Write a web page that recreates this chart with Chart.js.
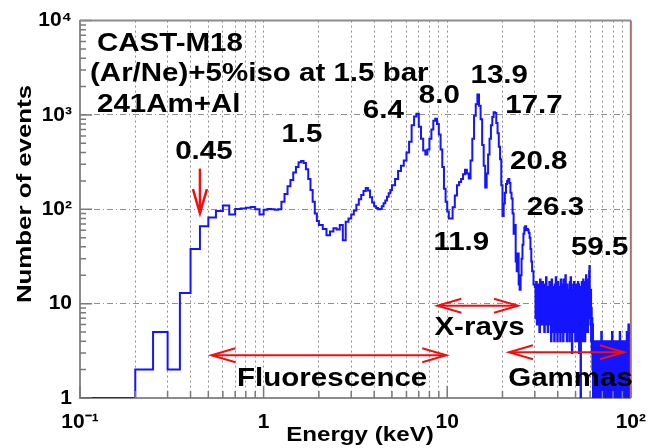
<!DOCTYPE html>
<html>
<head>
<meta charset="utf-8">
<title>CAST-M18 spectrum</title>
<script src="https://cdn.jsdelivr.net/npm/chart.js@4.4.0/dist/chart.umd.min.js"></script>
<style>
  html, body { margin: 0; padding: 0; background: #fff; }
</style>
</head>
<body>
<canvas id="spectrum" width="658" height="448"></canvas>
<script>
// Histogram bins: left edge energy (keV) and number of events per bin
const lowEnergy = [0.1, 0.2, 0.25, 0.3, 0.35, 0.4, 0.45, 0.5, 0.55, 0.6, 0.65, 0.7, 0.75, 0.8, 0.85, 0.9, 0.95,
  1.0, 1.05, 1.1, 1.15, 1.2, 1.25, 1.3, 1.35, 1.4, 1.45, 1.5, 1.55, 1.6, 1.65, 1.7, 1.75, 1.8, 1.85, 1.9, 1.95];
const lowCounts = [1, 2, 5, 2, 13, 38, 66, 82, 96, 110, 88, 101, 102, 104, 106, 100, 88,
  99, 101, 100, 99, 100, 120, 145, 175, 205, 245, 280, 315, 325, 310, 265, 210, 160, 120, 90, 75];

const midEnergy = [2.0, 2.1, 2.2, 2.3, 2.4, 2.5, 2.6, 2.7, 2.8, 2.9, 3.0, 3.1, 3.2, 3.3, 3.4, 3.5, 3.6, 3.7, 3.8, 3.9,
  4.0, 4.1, 4.2, 4.3, 4.4, 4.5, 4.6, 4.7, 4.8, 4.9, 5.0, 5.2, 5.4, 5.6, 5.8, 6.0, 6.2, 6.4, 6.6, 6.8,
  7.0, 7.2, 7.4, 7.6, 7.8, 8.0, 8.2, 8.4, 8.6, 8.8, 9.0, 9.2, 9.4, 9.6, 9.8, 10.0, 10.2];
const midCounts = [68, 62, 53, 58, 63, 61, 68, 47, 74, 80, 88, 97, 112, 128, 142, 156, 168, 158, 134, 118,
  108, 103, 100, 101, 108, 116, 124, 136, 148, 160, 180, 210, 255, 290, 330, 400, 520, 780, 960, 1030,
  750, 560, 420, 380, 430, 560, 700, 870, 910, 800, 620, 430, 280, 165, 120, 95, 80];

const highEnergy = [10.4, 10.7, 11.0, 11.3, 11.6, 11.9, 12.2, 12.5, 12.8, 13.1, 13.4, 13.7, 14.0, 14.3, 14.6, 14.9,
  15.2, 15.5, 15.8, 16.1, 16.4, 16.7, 17.0, 17.3, 17.6, 17.9, 18.2, 18.5, 18.8, 19.1, 19.4, 19.7,
  20.0, 20.3, 20.6, 20.9, 21.2, 21.5, 21.8, 22.1, 22.4, 22.7, 23.0, 23.3, 23.6, 23.9, 24.2, 24.5,
  24.8, 25.1, 25.4, 25.7, 26.0, 26.3, 26.6, 26.9, 27.2, 27.5, 27.8, 28.1, 28.4, 28.7, 29.0, 29.5];
const highCounts = [80, 105, 140, 180, 195, 210, 235, 262, 240, 212, 330, 560, 980, 1300, 1650, 1250,
  900, 480, 290, 170, 240, 380, 560, 780, 950, 1070, 1050, 820, 640, 460, 340, 180,
  85, 115, 150, 185, 200, 210, 190, 150, 130, 90, 55, 68, 28, 22, 34, 16,
  14, 20, 30, 42, 55, 64, 66, 60, 62, 60, 56, 50, 38, 28, 22, 16];

const tailEnergy = [
  30, 30.25, 30.5, 30.75, 31, 31.25, 31.5, 31.75, 32, 32.25, 32.5, 32.75, 33, 33.25, 33.5, 33.75,
  34, 34.25, 34.5, 34.75, 35, 35.25, 35.5, 35.75, 36, 36.25, 36.5, 36.75, 37, 37.25, 37.5, 37.75,
  38, 38.25, 38.5, 38.75, 39, 39.25, 39.5, 39.75, 40, 40.25, 40.5, 40.75, 41, 41.25, 41.5, 41.75,
  42, 42.25, 42.5, 42.75, 43, 43.25, 43.5, 43.75, 44, 44.25, 44.5, 44.75, 45, 45.25, 45.5, 45.75,
  46, 46.25, 46.5, 46.75, 47, 47.25, 47.5, 47.75, 48, 48.25, 48.5, 48.75, 49, 49.25, 49.5, 49.75,
  50, 50.25, 50.5, 50.75, 51, 51.25, 51.5, 51.75, 52, 52.25, 52.5, 52.75, 53, 53.25, 53.5, 53.75,
  54, 54.25, 54.5, 54.75, 55, 55.25, 55.5, 55.75, 56, 56.25, 56.5, 56.75, 57, 57.25, 57.5, 57.75,
  58, 58.25, 58.5, 58.75, 59, 59.25, 59.5, 59.75, 60, 60.25, 60.5, 60.75, 61, 61.25, 61.5, 61.75,
  62, 62.25, 62.5, 62.75];
const tailCounts = [
  15, 7, 17, 6, 14, 8, 16, 5, 18, 7, 13, 6, 17, 9, 14, 5,
  16, 6, 19, 7, 12, 5, 15, 8, 17, 6, 14, 4, 18, 5, 15, 7,
  13, 4, 16, 6, 19, 5, 14, 4, 17, 6, 15, 5, 12, 4, 18, 6,
  16, 5, 14, 4, 18, 7, 13, 5, 20, 6, 15, 4, 16, 5, 14, 6,
  13, 4, 17, 5, 19, 6, 12, 3, 14, 5, 16, 5, 17, 6, 13, 4,
  15, 4, 16, 6, 13, 5, 17, 4, 16, 3, 12, 5, 14, 1, 15, 5,
  17, 6, 13, 4, 18, 5, 14, 6, 15, 4, 17, 5, 20, 7, 14, 6,
  16, 5, 18, 7, 15, 22, 25, 9, 12, 6, 14, 4, 9, 3, 7, 2,
  6, 1, 4, 1];

const gammaEnergy = [
  63, 63.5, 64, 64.5, 65, 65.5, 66, 66.5, 67, 67.5, 68, 68.5, 69, 69.5, 70, 70.5, 71, 71.5, 72, 72.5,
  73, 73.5, 74, 74.5, 75, 75.5, 76, 76.5, 77, 77.5, 78, 78.5, 79, 79.5, 80, 80.5, 81, 81.5, 82, 82.5,
  83, 83.5, 84, 84.5, 85, 85.5, 86, 86.5, 87, 87.5, 88, 88.5, 89, 89.5, 90, 90.5, 91, 91.5, 92, 92.5,
  93, 93.5, 94, 94.5, 95, 95.5, 96, 96.5, 97, 97.5, 98, 98.5, 99, 99.5];
const gammaCounts = [
  4, 1, 3, 1, 4, 2, 3, 1, 4, 1, 3, 1, 5, 1, 3, 1, 4, 2, 3, 1,
  4, 1, 3, 1, 4, 1, 3, 2, 4, 1, 3, 1, 5, 1, 3, 1, 4, 1, 3, 2,
  4, 1, 3, 1, 4, 1, 3, 1, 5, 1, 3, 2, 4, 1, 3, 1, 4, 1, 3, 1,
  4, 2, 3, 1, 5, 1, 3, 1, 6, 1, 4, 1, 6, 6];

// Axis decades and their labels
const xDecades = [0.1, 1, 10, 100];
const xTickLabels = ['10\u207B\u00B9', '1', '10', '10\u00B2'];
const yDecades = [1, 10, 100, 1000, 10000];
const yTickLabels = ['1', '10', '10\u00B2', '10\u00B3', '10\u2074'];

const energies = [...lowEnergy, ...midEnergy, ...highEnergy, ...tailEnergy, ...gammaEnergy];
const counts = [...lowCounts, ...midCounts, ...highCounts, ...tailCounts, ...gammaCounts];
const points = energies.map((e, i) => ({ x: e, y: counts[i] }));
// close the last bin at the upper axis limit
points.push({ x: xDecades[xDecades.length - 1], y: counts[counts.length - 1] });

// Peak labels and region arrows, placed in data units (keV, events)
const peakNotes = [
  { text: '0.45', x: 0.33, y: 339 },
  { text: '1.5', x: 1.25, y: 511 },
  { text: '6.4', x: 3.47, y: 936 },
  { text: '8.0', x: 7.0, y: 1345 },
  { text: '13.9', x: 13.4, y: 2181 },
  { text: '17.7', x: 20.7, y: 1056 },
  { text: '20.8', x: 22.0, y: 266 },
  { text: '26.3', x: 27.1, y: 87.5 },
  { text: '11.9', x: 8.41, y: 36.7 },
  { text: '59.5', x: 47.2, y: 32.5 },
  { text: 'X-rays', x: 8.52, y: 4.7 },
  { text: 'Fluorescence', x: 0.717, y: 1.34 },
  { text: 'Gammas', x: 21.5, y: 1.34 }
];
const arrows = [
  { x1: 0.52, y1: 2.84, x2: 9.88, y2: 2.84, both: true, width: 2 },
  { x1: 8.84, y1: 9.5, x2: 24.3, y2: 9.5, both: true, width: 2 },
  { x1: 21.7, y1: 3.05, x2: 91.8, y2: 3.05, both: true, width: 2 },
  { x1: 0.45, y1: 270, x2: 0.45, y2: 91, both: false, width: 2.5 }
];
const headerLines = [
  { text: 'CAST-M18', dx: 17, dy: 30 },
  { text: '(Ar/Ne)+5%iso at 1.5 bar', dx: 10, dy: 60 },
  { text: '241Am+Al', dx: 17, dy: 91 }
];

const FONT = '"Liberation Sans", Arial, Helvetica, sans-serif';

function withMinors(decades) {
  const out = [];
  decades.forEach((d, i) => {
    out.push(d);
    if (i < decades.length - 1) for (let k = 2; k <= 9; k++) out.push(d * k);
  });
  return out;
}
function decadeIndex(v, decades) {
  return decades.findIndex(d => Math.abs(v / d - 1) < 1e-6);
}

function drawText(c, txt, x, y, size, sx, align) {
  c.save();
  c.translate(x, y);
  c.scale(sx, 1);
  c.font = 'bold ' + size + 'px ' + FONT;
  c.fillStyle = '#000';
  c.textAlign = align || 'left';
  c.textBaseline = 'alphabetic';
  c.fillText(txt, 0, 0);
  c.restore();
}

function arrowHead(c, tx, ty, ux, uy) {
  const len = 24, half = 7;
  const bx = tx - ux * len, by = ty - uy * len;
  c.beginPath();
  c.moveTo(bx - uy * half, by + ux * half);
  c.lineTo(tx, ty);
  c.lineTo(bx + uy * half, by - ux * half);
  c.stroke();
}

const decorations = {
  id: 'decorations',
  afterDatasetsDraw(chart) {
    const c = chart.ctx, a = chart.chartArea;
    const xs = chart.scales.x, ys = chart.scales.y;
    c.save();
    // tick marks inside the frame
    c.strokeStyle = '#7a7a7a';
    c.lineWidth = 1.5;
    c.beginPath();
    xs.ticks.forEach(t => {
      const px = xs.getPixelForValue(t.value);
      const len = decadeIndex(t.value, xDecades) >= 0 ? 12 : 7;
      c.moveTo(px, a.bottom);
      c.lineTo(px, a.bottom - len);
    });
    ys.ticks.forEach(t => {
      const py = ys.getPixelForValue(t.value);
      const len = decadeIndex(t.value, yDecades) >= 0 ? 12 : 6;
      c.moveTo(a.left, py);
      c.lineTo(a.left + len, py);
    });
    c.stroke();
    // top and right edges of the frame
    c.lineWidth = 2;
    c.strokeStyle = '#8c8c8c';
    c.beginPath();
    c.moveTo(a.left, a.top);
    c.lineTo(a.right, a.top);
    c.stroke();
    c.strokeStyle = '#b06a6a';
    c.beginPath();
    c.moveTo(a.right, a.top);
    c.lineTo(a.right, a.bottom);
    c.stroke();
    c.restore();
  },
  afterDraw(chart) {
    const c = chart.ctx, a = chart.chartArea;
    const xs = chart.scales.x, ys = chart.scales.y;
    c.save();
    // red arrows
    c.strokeStyle = '#f01010';
    arrows.forEach(ar => {
      const x1 = xs.getPixelForValue(ar.x1), y1 = ys.getPixelForValue(ar.y1);
      const x2 = xs.getPixelForValue(ar.x2), y2 = ys.getPixelForValue(ar.y2);
      const d = Math.hypot(x2 - x1, y2 - y1), ux = (x2 - x1) / d, uy = (y2 - y1) / d;
      c.lineWidth = ar.width;
      c.beginPath();
      c.moveTo(x1, y1);
      c.lineTo(x2, y2);
      c.stroke();
      arrowHead(c, x2, y2, ux, uy);
      if (ar.both) arrowHead(c, x1, y1, -ux, -uy);
    });
    // header text block
    headerLines.forEach(h => drawText(c, h.text, a.left + h.dx, a.top + h.dy, 25, 1.18));
    // peak and region labels
    peakNotes.forEach(n => drawText(c, n.text, xs.getPixelForValue(n.x), ys.getPixelForValue(n.y), 25, 1.18));
    // axis titles
    drawText(c, 'Energy (keV)', 360, 441, 21, 1.15, 'center');
    c.translate(31, 194);
    c.rotate(-Math.PI / 2);
    drawText(c, 'Number of events', 0, 0, 21, 1.23, 'center');
    c.restore();
  }
};

const ctx = document.getElementById('spectrum').getContext('2d');
new Chart(ctx, {
  type: 'line',
  data: {
    datasets: [{
      data: points,
      borderColor: '#1414ff',
      borderWidth: 2,
      stepped: true,
      pointRadius: 0,
      fill: false
    }]
  },
  options: {
    responsive: false,
    animation: false,
    layout: { padding: { top: 17, right: 17, left: 0, bottom: 0 } },
    plugins: { legend: { display: false }, tooltip: { enabled: false } },
    scales: {
      x: {
        type: 'logarithmic',
        min: xDecades[0],
        max: xDecades[xDecades.length - 1],
        afterBuildTicks: s => { s.ticks = withMinors(xDecades).map(v => ({ value: v })); },
        afterFit: s => { s.height = 50; },
        ticks: {
          autoSkip: false,
          maxRotation: 0,
          minRotation: 0,
          padding: 12,
          color: '#000',
          font: { family: FONT, size: 21, weight: 'bold' },
          callback: v => { const i = decadeIndex(v, xDecades); return i >= 0 ? xTickLabels[i] : ''; }
        },
        grid: {
          drawTicks: false,
          lineWidth: 1,
          color: c => (c.tick && c.index > 0 && c.index < withMinors(xDecades).length - 1) ? '#8f8f8f' : 'rgba(0,0,0,0)'
        },
        border: { display: true, color: '#8c8c8c', width: 2, dash: [2, 3] }
      },
      y: {
        type: 'logarithmic',
        min: yDecades[0],
        max: yDecades[yDecades.length - 1],
        afterBuildTicks: s => { s.ticks = withMinors(yDecades).map(v => ({ value: v })); },
        afterFit: s => { s.width = 80; },
        ticks: {
          autoSkip: false,
          padding: 8,
          color: '#000',
          font: { family: FONT, size: 21, weight: 'bold' },
          callback: v => { const i = decadeIndex(v, yDecades); return i >= 0 ? yTickLabels[i] : ''; }
        },
        grid: {
          drawTicks: false,
          lineWidth: 1,
          color: c => {
            if (!c.tick) return 'rgba(0,0,0,0)';
            const i = decadeIndex(c.tick.value, yDecades);
            return (i > 0 && i < yDecades.length - 1) ? '#8f8f8f' : 'rgba(0,0,0,0)';
          }
        },
        border: { display: true, color: '#8c8c8c', width: 2, dash: [6, 3, 1, 3] }
      }
    }
  },
  plugins: [decorations]
});
</script>
</body>
</html>
